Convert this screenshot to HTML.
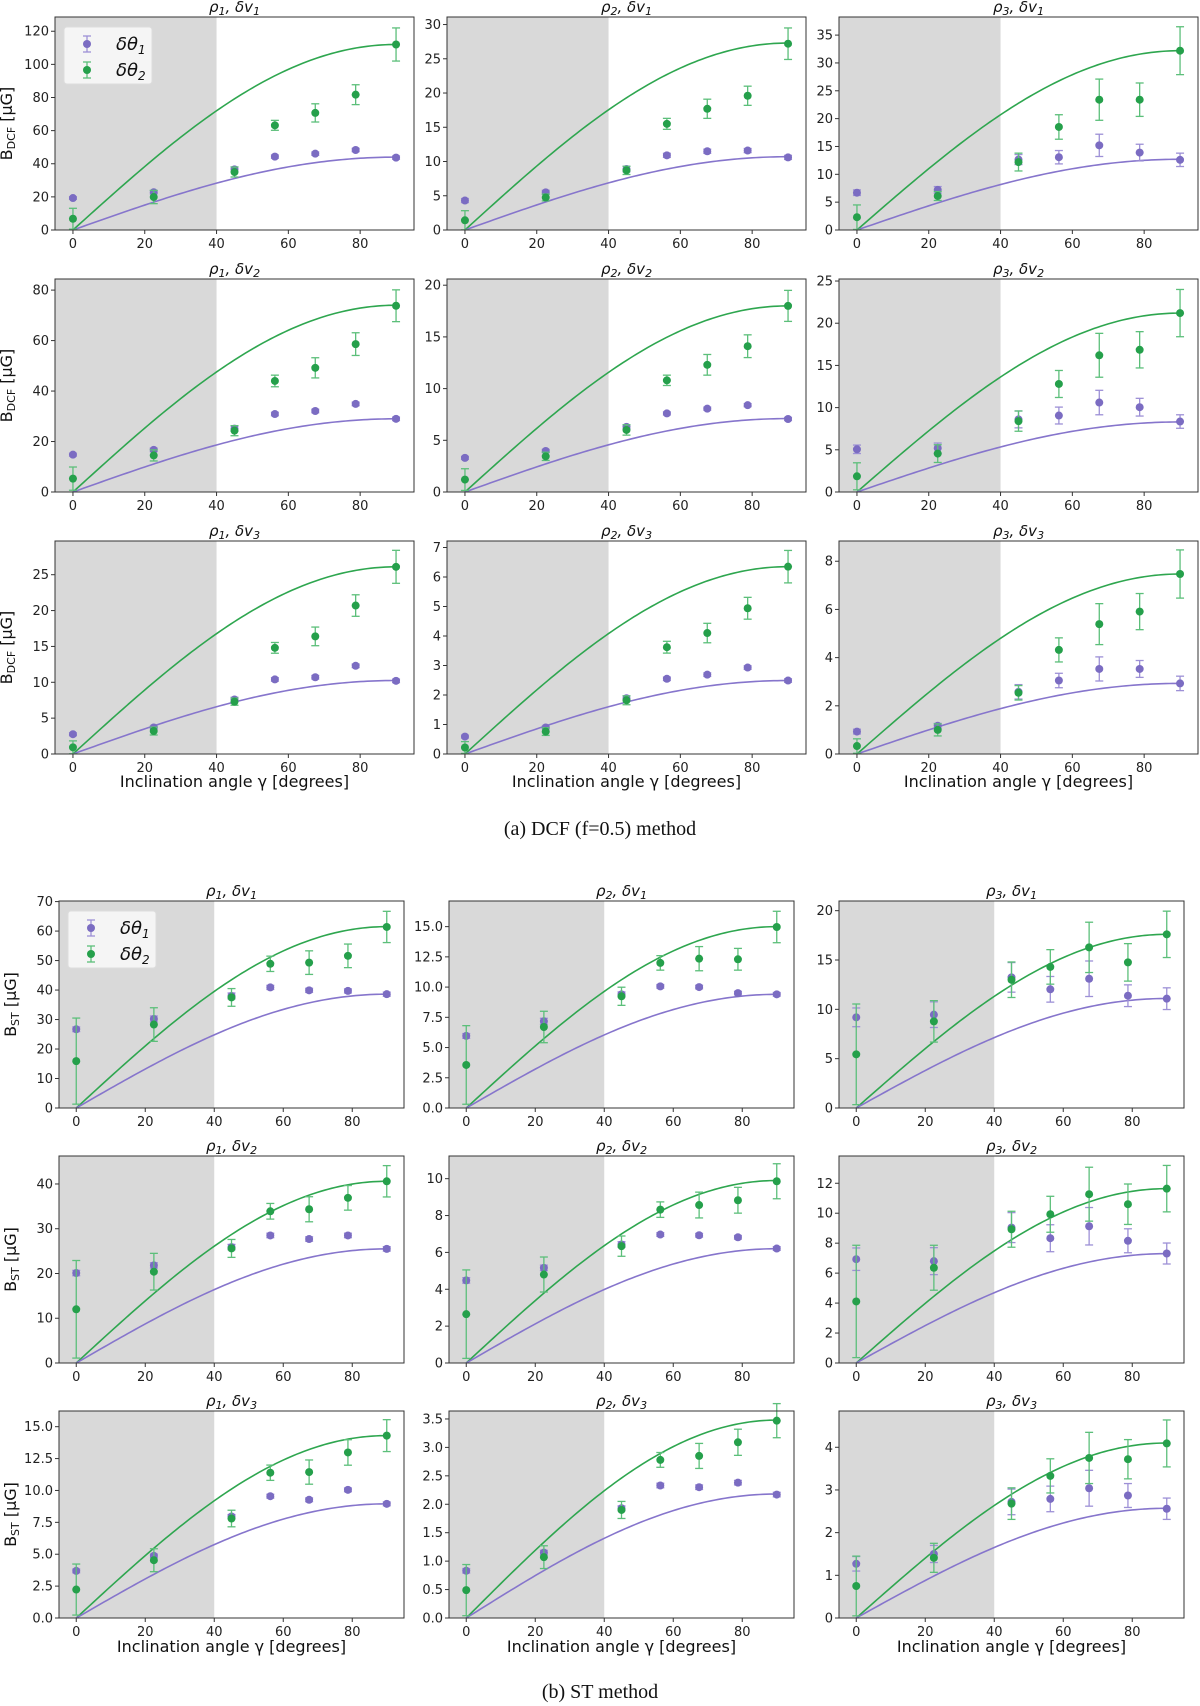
<!DOCTYPE html>
<html>
<head>
<meta charset="utf-8">
<style>
  html,body{margin:0;padding:0;background:#fff;}
  svg{display:block;}
  .tick{font-family:"DejaVu Sans","Liberation Sans",sans-serif;font-size:13px;fill:#222;}
  .ttl{font-family:"DejaVu Sans","Liberation Sans",sans-serif;font-size:15px;font-style:italic;fill:#111;}
  .lab{font-family:"DejaVu Sans","Liberation Sans",sans-serif;font-size:16px;fill:#111;}
  .cap{font-family:"Liberation Serif",serif;font-size:20px;fill:#111;}
  .leg{font-family:"DejaVu Sans","Liberation Sans",sans-serif;font-size:18px;font-style:italic;fill:#111;}
</style>
</head>
<body>
<svg id="fig" xmlns="http://www.w3.org/2000/svg" width="1200" height="1706" viewBox="0 0 1200 1706">
  <rect x="0" y="0" width="1200" height="1706" fill="#fff"/>
  <g id="panels"></g>
  <text class="cap" x="600" y="835" text-anchor="middle">(a) DCF (f=0.5) method</text>
  <text class="cap" x="600" y="1698" text-anchor="middle">(b) ST method</text>
</svg>
<script>
const xAngles = [0, 22.5, 45, 56.25, 67.5, 78.75, 90];
const xTicks = [0, 20, 40, 60, 80];
const shadeLimit = 40;

const purpleVals = [
  [19.3,22.8,36.6,44.3,46.1,48.3,43.7],
  [4.3,5.5,8.9,10.9,11.5,11.6,10.6],
  [6.7,7.2,12.65,13.07,15.2,13.9,12.6],
  [14.8,16.7,25.1,30.9,32.1,34.9,29.0],
  [3.3,3.97,6.3,7.6,8.06,8.4,7.06],
  [5.06,5.2,8.6,9.06,10.6,10.05,8.35],
  [2.76,3.7,7.6,10.4,10.7,12.3,10.2],
  [0.59,0.9,1.89,2.55,2.69,2.93,2.49],
  [0.93,1.17,2.58,3.05,3.53,3.53,2.93],
  [26.7,30.2,38,40.9,39.9,39.7,38.6],
  [5.96,7.17,9.4,10.06,10.0,9.5,9.4],
  [9.19,9.46,13.24,12.03,13.1,11.38,11.08],
  [20.1,21.8,25.9,28.5,27.7,28.5,25.5],
  [4.48,5.16,6.43,6.97,6.93,6.82,6.21],
  [6.93,6.8,9.04,8.33,9.13,8.16,7.31],
  [3.69,4.87,7.96,9.55,9.27,10.05,8.95],
  [0.83,1.15,1.93,2.33,2.3,2.38,2.17],
  [1.27,1.5,2.72,2.79,3.04,2.87,2.56]
];
const purpleErr = [
  [0.8,1,1.5,1,1,1,1],
  [0.3,0.3,0.4,0.3,0.3,0.3,0.3],
  [0.5,0.6,0.9,1.2,2,1.5,1.2],
  [0.6,0.7,1,0.7,0.7,0.7,0.7],
  [0.15,0.15,0.2,0.15,0.15,0.15,0.15],
  [0.5,0.6,1,1,1.45,1.05,0.8],
  [0.2,0.2,0.3,0.25,0.25,0.25,0.25],
  [0.05,0.05,0.08,0.06,0.06,0.06,0.06],
  [0.1,0.1,0.3,0.3,0.5,0.35,0.3],
  [0.8,1,1,0.7,0.7,0.7,0.7],
  [0.2,0.25,0.2,0.15,0.15,0.15,0.15],
  [0.95,1.3,1.5,1.3,1.8,1.1,1.1],
  [0.6,0.6,0.6,0.5,0.5,0.5,0.5],
  [0.15,0.15,0.15,0.1,0.1,0.1,0.1],
  [0.75,0.9,1,0.9,1.25,0.8,0.7],
  [0.15,0.15,0.15,0.15,0.15,0.15,0.15],
  [0.04,0.04,0.04,0.04,0.04,0.04,0.04],
  [0.17,0.2,0.3,0.3,0.42,0.28,0.25]
];
const greenVals = [
  [6.8,19.9,35,63.2,70.7,81.7,112],
  [1.42,4.75,8.7,15.5,17.7,19.6,27.2],
  [2.3,6.1,12.2,18.5,23.4,23.4,32.2],
  [5.3,14.5,24.3,44,49.2,58.6,73.8],
  [1.2,3.45,6.0,10.8,12.3,14.1,18.0],
  [1.86,4.55,8.4,12.8,16.2,16.85,21.2],
  [0.93,3.2,7.3,14.8,16.4,20.7,26.1],
  [0.22,0.76,1.82,3.62,4.1,4.94,6.35],
  [0.33,1.0,2.54,4.32,5.39,5.91,7.47],
  [15.9,28.3,37.5,48.9,49.3,51.6,61.4],
  [3.56,6.7,9.24,12.0,12.35,12.3,14.97],
  [5.44,8.78,13.0,14.3,16.28,14.76,17.6],
  [12.0,20.4,25.6,33.9,34.35,36.9,40.6],
  [2.65,4.8,6.34,8.32,8.57,8.83,9.86],
  [4.11,6.36,8.93,9.93,11.27,10.6,11.64],
  [2.23,4.53,7.8,11.39,11.44,12.98,14.3],
  [0.49,1.07,1.9,2.78,2.85,3.09,3.47],
  [0.75,1.41,2.68,3.33,3.75,3.72,4.09]
];
const greenErr = [
  [6.3,4,3,3,5.5,6,10],
  [1.4,0.5,0.6,0.8,1.4,1.4,2.3],
  [2.2,0.8,1.6,2.2,3.7,3,4.3],
  [4.6,2.2,2,2.3,4,4.5,6.3],
  [1.05,0.4,0.5,0.5,1,1.1,1.5],
  [1.6,1.05,1.2,1.6,2.6,2.15,2.8],
  [0.9,0.55,0.5,0.75,1.3,1.5,2.3],
  [0.2,0.13,0.15,0.2,0.33,0.37,0.55],
  [0.3,0.25,0.3,0.5,0.85,0.75,1],
  [14.6,5.7,3,2.6,4,4,5.3],
  [3.25,1.3,0.75,0.6,1,0.9,1.3],
  [5.1,2.1,1.8,1.75,2.55,1.9,2.35],
  [10.9,4.1,2,1.75,2.8,2.75,3.5],
  [2.4,0.95,0.55,0.42,0.7,0.7,0.95],
  [3.75,1.5,1.2,1.2,1.8,1.35,1.55],
  [2,0.9,0.65,0.6,0.95,1,1.25],
  [0.45,0.2,0.15,0.13,0.22,0.23,0.3],
  [0.7,0.34,0.37,0.4,0.6,0.46,0.55]
];
const purpleAmp = [44,10.7,12.7,29,7.1,8.3,10.25,2.49,2.93, 38.6,9.4,11.1,25.5,6.2,7.3,8.95,2.18,2.57];
const greenAmp = [112,27.3,32.2,74,18,21.2,26.1,6.35,7.47, 61.5,15,17.6,40.6,9.9,11.64,14.3,3.48,4.1];
const yMaxes = [128.6,31.1,38.25,84.4,20.6,25.24,29.7,7.22,8.84, 70.2,17.12,20.98,46.25,11.23,13.82,16.23,3.64,4.85];
const yTickLabels = [
  ["0","20","40","60","80","100","120"],
  ["0","5","10","15","20","25","30"],
  ["0","5","10","15","20","25","30","35"],
  ["0","20","40","60","80"],
  ["0","5","10","15","20"],
  ["0","5","10","15","20","25"],
  ["0","5","10","15","20","25"],
  ["0","1","2","3","4","5","6","7"],
  ["0","2","4","6","8"],
  ["0","10","20","30","40","50","60","70"],
  ["0.0","2.5","5.0","7.5","10.0","12.5","15.0"],
  ["0","5","10","15","20"],
  ["0","10","20","30","40"],
  ["0","2","4","6","8","10"],
  ["0","2","4","6","8","10","12"],
  ["0.0","2.5","5.0","7.5","10.0","12.5","15.0"],
  ["0.0","0.5","1.0","1.5","2.0","2.5","3.0","3.5"],
  ["0","1","2","3","4"]
];
const rhoLabels = ["1","2","3"];
const dvLabels = ["1","2","3"];

const NS = "http://www.w3.org/2000/svg";
const PURPLE = "#7b6cc2", GREEN = "#25a04b";
const PURPLE_LINE = "#8675cc", GREEN_LINE = "#2ea64f";
const PURPLE_ERR = "#9d90d6", GREEN_ERR = "#5cbf7a";
const layouts = [
  {tops:[17,279,541], h:213, lefts:[55,447,839], w:359, yl:"DCF", ylx:12, xly:787},
  {tops:[901,1156,1411], h:207, lefts:[59,449,839], w:345, yl:"ST", ylx:16, xly:1652}
];
const XMIN = -5, XMAX = 95;
const root = document.getElementById("panels");

function mk(tag, attrs, parent){
  const e = document.createElementNS(NS, tag);
  for (const k in attrs) e.setAttribute(k, attrs[k]);
  parent.appendChild(e);
  return e;
}

for (let p = 0; p < 18; p++){
  const L = layouts[p < 9 ? 0 : 1];
  const k = p % 9, row = Math.floor(k/3), col = k % 3;
  const left = L.lefts[col], top = L.tops[row], w = L.w, h = L.h;
  const ymax = yMaxes[p];
  const sx = v => left + (v - XMIN) / (XMAX - XMIN) * w;
  const sy = v => top + h - v / ymax * h;

  const g = mk("g", {}, root);
  
  

  const clipId = "clip" + p;
  const cp = mk("clipPath", {id: clipId}, g);
  mk("rect", {x:left, y:top, width:w, height:h}, cp);

  const shade = mk("rect", {x:left, y:top, width:sx(shadeLimit)-left, height:h, fill:"#d9d9d9"}, g);
  
  

  [[greenAmp[p], GREEN_LINE, 'green-curve'], [purpleAmp[p], PURPLE_LINE, 'purple-curve']].forEach(([amp, col2, nm]) => {
    let d = "";
    for (let a = 0; a <= 90; a += 1){
      d += (a === 0 ? "M" : "L") + sx(a).toFixed(2) + "," + sy(amp*Math.sin(a*Math.PI/180)).toFixed(2);
    }
    const path = mk("path", {d:d, fill:"none", stroke:col2, "stroke-width":1.6, "clip-path":"url(#"+clipId+")"}, g);
    
    
  });

  const series = [
    [purpleVals[p], purpleErr[p], PURPLE, PURPLE_ERR, 'purple'],
    [greenVals[p], greenErr[p], GREEN, GREEN_ERR, 'green']
  ];
  series.forEach(([vals, errs, c, ce, nm]) => {
    vals.forEach((v, i) => {
      const x = sx(xAngles[i]);
      const y1 = sy(v - errs[i]), y2 = sy(v + errs[i]);
      const eb = mk("g", {stroke:ce, "stroke-width":1.3}, g);
      
      
      mk("line", {x1:x, x2:x, y1:y1, y2:y2}, eb);
      mk("line", {x1:x-4, x2:x+4, y1:y1, y2:y1}, eb);
      mk("line", {x1:x-4, x2:x+4, y1:y2, y2:y2}, eb);
      const pt = mk("circle", {cx:x, cy:sy(v), r:4, fill:c}, g);
      
      
    });
  });

  const fr = mk("rect", {x:left, y:top, width:w, height:h, fill:"none", stroke:"#333", "stroke-width":1}, g);
  
  

  xTicks.forEach(t => {
    const x = sx(t);
    mk("line", {x1:x, x2:x, y1:top+h, y2:top+h+4, stroke:"#333", "stroke-width":1}, g);
    const tx = mk("text", {x:x, y:top+h+18, "text-anchor":"middle", class:"tick"}, g);
    tx.textContent = String(t);
    
    
  });
  yTickLabels[p].forEach(s => {
    const y = sy(parseFloat(s));
    mk("line", {x1:left-4, x2:left, y1:y, y2:y, stroke:"#333", "stroke-width":1}, g);
    const ty = mk("text", {x:left-6, y:y+4.5, "text-anchor":"end", class:"tick"}, g);
    ty.textContent = s;
    
    
  });

  const tt = mk("text", {x:left + w/2, y:top-5, "text-anchor":"middle", class:"ttl"}, g);
  
  
  tt.innerHTML = 'ρ<tspan font-size="11" dy="3">' + rhoLabels[col] + '</tspan><tspan dy="-3">, δv</tspan><tspan font-size="11" dy="3">' + dvLabels[row] + '</tspan>';

  if (col === 0){
    const cy = top + h/2;
    const yl = mk("text", {x:0, y:0, "text-anchor":"middle", class:"lab", transform:"translate(" + L.ylx + "," + cy + ") rotate(-90)"}, g);
    
    
    yl.innerHTML = 'B<tspan font-size="11" dy="3">' + L.yl + '</tspan><tspan dy="-3"> [μG]</tspan>';
  }

  if (row === 2){
    const xl = mk("text", {x:left + w/2, y:L.xly, "text-anchor":"middle", class:"lab"}, g);
    
    
    xl.textContent = "Inclination angle γ [degrees]";
  }

  if (k === 0){
    const lx = left + 9, ly = top + 10;
    const lg = mk("g", {}, g);
    
    
    mk("rect", {x:lx, y:ly, width:88, height:57, rx:3, fill:"#f7f7f7", "fill-opacity":0.9, stroke:"#ddd"}, lg);
    [[PURPLE, PURPLE_ERR, "1", 17], [GREEN, GREEN_ERR, "2", 43]].forEach(([c, ce, sub, dy]) => {
      const en = mk("g", {}, lg);
      
      
      const ex = lx + 23, ey = ly + dy;
      mk("line", {x1:ex, x2:ex, y1:ey-8, y2:ey+8, stroke:ce, "stroke-width":1.3}, en);
      mk("line", {x1:ex-4, x2:ex+4, y1:ey-8, y2:ey-8, stroke:ce, "stroke-width":1.3}, en);
      mk("line", {x1:ex-4, x2:ex+4, y1:ey+8, y2:ey+8, stroke:ce, "stroke-width":1.3}, en);
      mk("circle", {cx:ex, cy:ey, r:4, fill:c}, en);
      const t = mk("text", {x:lx+52, y:ey+6, class:"leg"}, en);
      t.innerHTML = 'δθ<tspan font-size="12" dy="4">' + sub + '</tspan>';
    });
  }
}
</script>
</body>
</html>
